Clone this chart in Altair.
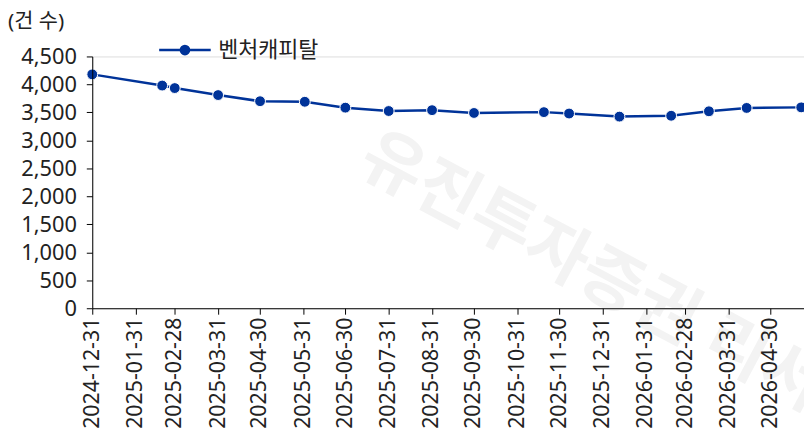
import altair as alt
import pandas as pd

# ---- data ----
dates = ["2024-12-31", "2025-02-19", "2025-02-28", "2025-03-31", "2025-04-30",
         "2025-06-01", "2025-06-30", "2025-07-31", "2025-08-31", "2025-09-30",
         "2025-11-19", "2025-12-07", "2026-01-12", "2026-02-18", "2026-03-17",
         "2026-04-13", "2026-05-22"]
values = [4180, 3980, 3935, 3810, 3700, 3690, 3585, 3525, 3540, 3490,
          3505, 3480, 3425, 3440, 3520, 3580, 3590]
series_name = "벤처캐피탈"
tick_dates = ["2024-12-31", "2025-01-31", "2025-02-28", "2025-03-31", "2025-04-30",
              "2025-05-31", "2025-06-30", "2025-07-31", "2025-08-31", "2025-09-30",
              "2025-10-31", "2025-11-30", "2025-12-31", "2026-01-31", "2026-02-28",
              "2026-03-31", "2026-04-30"]
x_domain = ["2024-12-31", "2026-05-24"]
y_ticks = [0, 500, 1000, 1500, 2000, 2500, 3000, 3500, 4000, 4500]
unit_label = "(건 수)"
watermark = "유진투자증권 리서치센터"

FONT = "Noto Sans, Noto Sans CJK KR"
BLUE = "#003399"


def dt(s):
    y, m, d = (int(v) for v in s.split("-"))
    return alt.DateTime(year=y, month=m, date=d, utc=True)


df = pd.DataFrame({"date": dates, "value": values, "series": series_name})

x_enc = alt.X(
    "date:T",
    scale=alt.Scale(type="utc", domain=[dt(s) for s in x_domain], nice=False),
    axis=alt.Axis(values=[dt(s) for s in tick_dates], format="%Y-%m-%d",
                  labelAngle=-90, labelAlign="right", labelBaseline="middle",
                  tickSize=6, labelPadding=3, grid=False, title=None,
                  domainColor="#000", tickColor="#000", labelColor="#222",
                  labelFontSize=21.5, labelOverlap=False, labelFlush=False,
                  zindex=1),
)
y_enc = alt.Y(
    "value:Q",
    scale=alt.Scale(domain=[0, 4500], nice=False, zero=True),
    axis=alt.Axis(values=y_ticks, format=",.0f", tickSize=6, labelPadding=10,
                  grid=False, title=None, domainColor="#000", tickColor="#000",
                  labelColor="#222", labelFontSize=22, labelFlush=False,
                  zindex=1),
)
color_enc = alt.Color(
    "series:N",
    scale=alt.Scale(domain=[series_name], range=[BLUE]),
    legend=alt.Legend(
        title=None, orient="none", legendX=66, legendY=-34,
        symbolType="M-1,0L1,0M-0.16,0A0.16,0.16 0 1,1 0.16,0A0.16,0.16 0 1,1 -0.16,0Z",
        symbolSize=2704, symbolStrokeWidth=2.5,
        symbolFillColor=BLUE, symbolStrokeColor=BLUE,
        labelFontSize=22, labelColor="#222", labelFont=FONT, labelOffset=6,
    ),
)

wm = pd.DataFrame({"t": [watermark]})
watermark_layer = alt.Chart(wm).mark_text(
    align="left", baseline="middle", angle=28, fontSize=68, fontWeight="bold",
    color="#f3f3f3", font=FONT,
).encode(x=alt.value(275), y=alt.value(97), text="t:N")

unit = pd.DataFrame({"t": [unit_label]})
unit_layer = alt.Chart(unit).mark_text(
    align="left", baseline="middle", fontSize=21, color="#222", font=FONT,
).encode(x=alt.value(-85), y=alt.value(-35), text="t:N")

base = alt.Chart(df)
line = base.mark_line(strokeWidth=2.5).encode(x=x_enc, y=y_enc, color=color_enc)
pts = base.mark_circle(size=120, opacity=1, stroke="white", strokeWidth=1).encode(
    x=x_enc, y=y_enc, color=color_enc)

chart = alt.layer(watermark_layer, line, pts, unit_layer).properties(
    width=718, height=254,
    autosize=alt.AutoSizeParams(type="none"),
    padding={"left": 85, "top": 47, "right": 0, "bottom": 127},
    background="white",
).configure_view(stroke=None).configure(font=FONT)

chart.save("out.html", embed_options={"renderer": "svg", "actions": False})
